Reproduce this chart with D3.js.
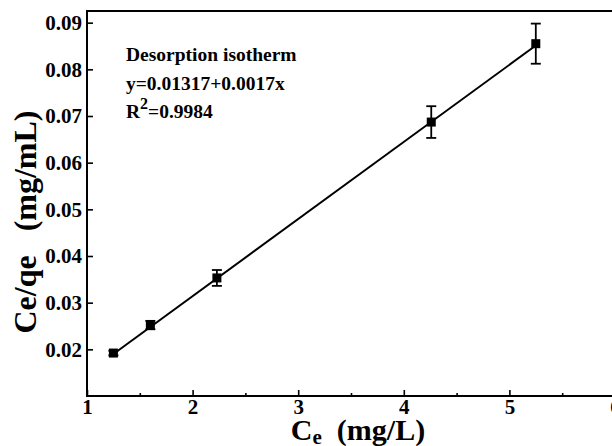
<!DOCTYPE html>
<html>
<head>
<meta charset="utf-8">
<script src="https://cdn.jsdelivr.net/npm/d3@7"></script>
<style>
  body { margin: 0; background: #fff; }
  svg { display: block; }
  text { font-family: "Liberation Serif", "Times New Roman", serif; font-weight: bold; fill: #000; }
  .axis path { display: none; }
  .axis line { stroke: #000; stroke-width: 1.6; }
</style>
</head>
<body>
<svg width="612" height="446"></svg>
<script>
// values
var ceValues = [1.25, 1.60, 2.23, 4.26, 5.25];
var ratioValues = [0.0192, 0.0252, 0.0353, 0.0687, 0.0855];
var errValues = [0.0005, 0.0009, 0.0017, 0.0034, 0.0043];
var fitX = [1.25, 5.25];
var fitY = [0.0190, 0.0851];
var xTicks = [1, 2, 3, 4, 5, 6];
var xMinor = [1.5, 2.5, 3.5, 4.5, 5.5];
var yTicks = [0.02, 0.03, 0.04, 0.05, 0.06, 0.07, 0.08, 0.09];
var noteLines = ["Desorption isotherm", "y=0.01317+0.0017x"];

var svg = d3.select("svg");

var plotLeft = 87, plotRight = 615, plotTop = 11, plotBottom = 396;

var xScale = d3.scaleLinear().domain([1, 6]).range([plotLeft, plotRight]);
var yScale = d3.scaleLinear().domain([0.01, 0.0925]).range([plotBottom, plotTop]);

// axes (ticks pointing inward)
svg.append("g")
    .attr("class", "axis")
    .attr("transform", "translate(0," + plotBottom + ")")
    .call(d3.axisBottom(xScale).tickValues(xMinor).tickSize(-3).tickFormat(""));

svg.append("g")
    .attr("class", "axis")
    .attr("transform", "translate(0," + plotBottom + ")")
    .call(d3.axisBottom(xScale).tickValues(xTicks).tickSize(-6).tickPadding(3).tickFormat(d3.format("d")))
    .selectAll("text")
    .style("font-size", "21px");

svg.append("g")
    .attr("class", "axis")
    .attr("transform", "translate(" + plotLeft + ",0)")
    .call(d3.axisLeft(yScale).tickValues(yTicks).tickSize(-6).tickPadding(5).tickFormat(d3.format(".2f")))
    .selectAll("text")
    .style("font-size", "21px");

// frame
svg.append("rect")
    .attr("x", plotLeft)
    .attr("y", plotTop)
    .attr("width", plotRight - plotLeft)
    .attr("height", plotBottom - plotTop)
    .attr("fill", "none")
    .attr("stroke", "#000")
    .attr("stroke-width", 2);

// fitted line
var line = d3.line()
    .x(function(d) { return xScale(d[0]); })
    .y(function(d) { return yScale(d[1]); });

svg.append("path")
    .datum(d3.zip(fitX, fitY))
    .attr("d", line)
    .attr("fill", "none")
    .attr("stroke", "#000")
    .attr("stroke-width", 2);

var pts = ceValues.map(function(c, i) { return {x: c, y: ratioValues[i], e: errValues[i]}; });

// error bars
var eb = svg.selectAll(".err").data(pts).enter().append("g").attr("class", "err")
    .attr("stroke", "#000").attr("stroke-width", 1.8);
eb.append("line")
    .attr("x1", function(d) { return xScale(d.x); })
    .attr("x2", function(d) { return xScale(d.x); })
    .attr("y1", function(d) { return yScale(d.y + d.e); })
    .attr("y2", function(d) { return yScale(d.y - d.e); });
eb.append("line")
    .attr("x1", function(d) { return xScale(d.x) - 5; })
    .attr("x2", function(d) { return xScale(d.x) + 5; })
    .attr("y1", function(d) { return yScale(d.y + d.e); })
    .attr("y2", function(d) { return yScale(d.y + d.e); });
eb.append("line")
    .attr("x1", function(d) { return xScale(d.x) - 5; })
    .attr("x2", function(d) { return xScale(d.x) + 5; })
    .attr("y1", function(d) { return yScale(d.y - d.e); })
    .attr("y2", function(d) { return yScale(d.y - d.e); });

// square markers
svg.selectAll(".pt").data(pts).enter().append("rect")
    .attr("class", "pt")
    .attr("x", function(d) { return xScale(d.x) - 4.5; })
    .attr("y", function(d) { return yScale(d.y) - 4.5; })
    .attr("width", 9)
    .attr("height", 9)
    .attr("fill", "#000");

// annotation
var note = svg.append("g").attr("transform", "translate(126,0)");
note.append("text").attr("y", 61).style("font-size", "19.5px").text(noteLines[0]);
note.append("text").attr("y", 90).style("font-size", "19.5px").text(noteLines[1]);
var r2 = note.append("text").attr("y", 118).style("font-size", "19.5px");
r2.append("tspan").text("R");
r2.append("tspan").attr("dy", -9).style("font-size", "16px").text("2");
r2.append("tspan").attr("dy", 9).text("=0.9984");

// axis titles
var xt = svg.append("text")
    .attr("x", 358)
    .attr("y", 440)
    .attr("text-anchor", "middle")
    .style("font-size", "30px");
xt.append("tspan").text("C");
xt.append("tspan").attr("dy", 4).style("font-size", "21px").text("e");
xt.append("tspan").attr("dy", -4).text("\u00a0 (mg/L)");

svg.append("text")
    .attr("transform", "translate(36,222) rotate(-90)")
    .attr("text-anchor", "middle")
    .style("font-size", "32px")
    .text("Ce/qe\u00a0\u00a0 (mg/mL)");
</script>
</body>
</html>
